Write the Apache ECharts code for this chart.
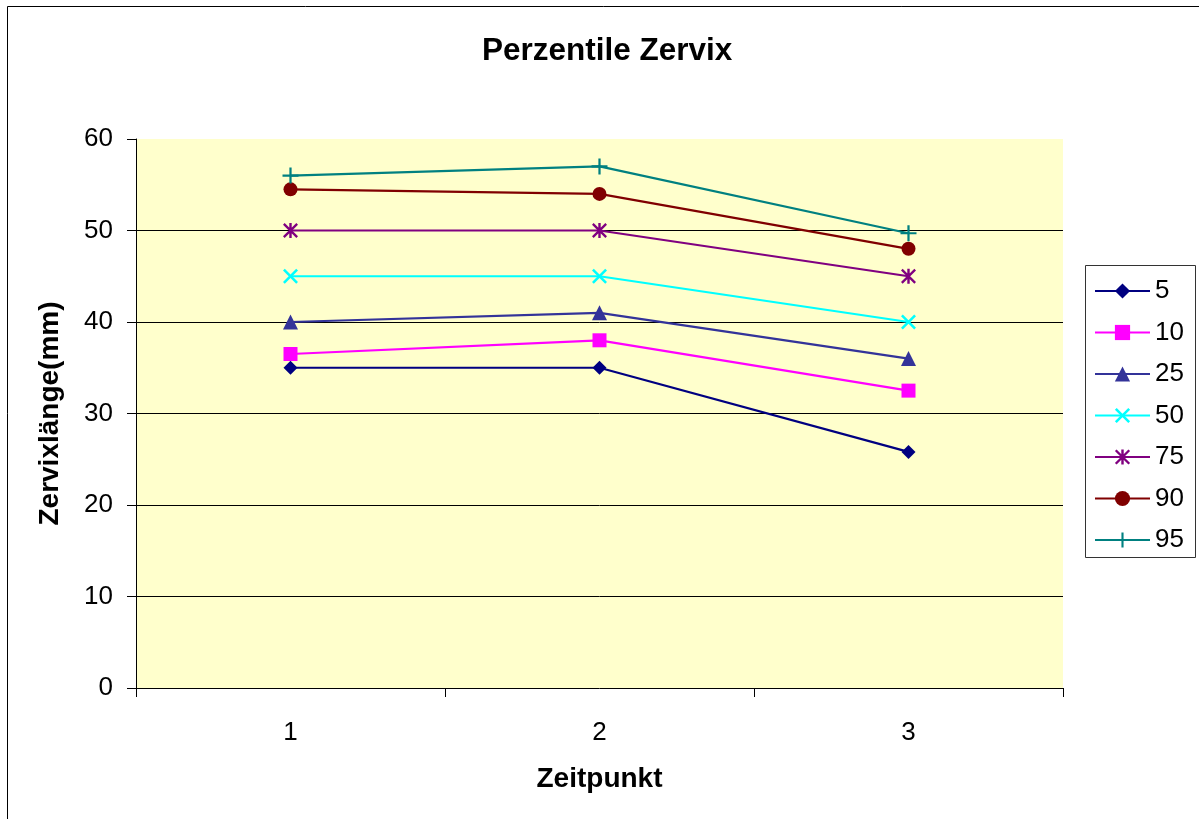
<!DOCTYPE html>
<html>
<head>
<meta charset="utf-8">
<script src="https://cdn.jsdelivr.net/npm/echarts@6/dist/echarts.min.js"></script>
<style>
html,body{margin:0;padding:0;background:#fff;}
#chart{width:1199px;height:819px;}
</style>
</head>
<body>
<div id="chart"></div>
<script>
const categories = ['1', '2', '3'];
const seriesNames = ['5', '10', '25', '50', '75', '90', '95'];
const p5  = [35, 35, 25.8];
const p10 = [36.5, 38, 32.5];
const p25 = [40, 41, 36];
const p50 = [45, 45, 40];
const p75 = [50, 50, 45];
const p90 = [54.5, 54, 48];
const p95 = [56, 57, 49.7];
const yTicks = [0, 10, 20, 30, 40, 50, 60];

const FONT = "'Liberation Sans', Arial, sans-serif";
const X_PATH = 'path://M0,1.2 L1.2,0 L5,3.8 L8.8,0 L10,1.2 L6.2,5 L10,8.8 L8.8,10 L5,6.2 L1.2,10 L0,8.8 L3.8,5 Z';
const STAR_PATH = 'path://M0,1.1 L1.1,0 L10,8.9 L8.9,10 Z M8.9,0 L10,1.1 L1.1,10 L0,8.9 Z M4.2,0 L5.8,0 L5.8,10 L4.2,10 Z';
const PLUS_PATH = 'path://M4.3,0 L5.7,0 L5.7,4.3 L10,4.3 L10,5.7 L5.7,5.7 L5.7,10 L4.3,10 L4.3,5.7 L0,5.7 L0,4.3 L4.3,4.3 Z';

const styles = [
  {data: p5,  color: '#000080', symbol: 'diamond',  size: 14},
  {data: p10, color: '#FF00FF', symbol: 'rect',     size: 14},
  {data: p25, color: '#333399', symbol: 'triangle', size: 15},
  {data: p50, color: '#00FFFF', symbol: X_PATH,     size: 15},
  {data: p75, color: '#800080', symbol: STAR_PATH,  size: 15},
  {data: p90, color: '#800000', symbol: 'circle',   size: 14},
  {data: p95, color: '#008080', symbol: PLUS_PATH,  size: 16}
];

const chart = echarts.init(document.getElementById('chart'), null, {renderer: 'canvas'});
const option = {
  backgroundColor: '#ffffff',
  animation: false,
  textStyle: {fontFamily: FONT},
  title: {
    text: 'Perzentile Zervix',
    left: 482, top: 35, padding: 0,
    textStyle: {fontFamily: FONT, fontSize: 31.5, fontWeight: 'bold', color: '#000'}
  },
  legend: {
    orient: 'vertical',
    left: 1094, top: 278, padding: 0,
    itemWidth: 55, itemHeight: 19, itemGap: 15.5,
    data: seriesNames,
    textStyle: {fontFamily: FONT, fontSize: 26, color: '#000', padding: [0, 0, 0, 0]}
  },
  grid: {
    left: 136, top: 139, width: 927, height: 549,
    show: true, backgroundColor: '#FFFFCC', borderWidth: 0,
    containLabel: false
  },
  xAxis: {
    type: 'category',
    data: categories,
    boundaryGap: true,
    name: 'Zeitpunkt',
    nameLocation: 'middle',
    nameGap: 77,
    nameTextStyle: {fontFamily: FONT, fontSize: 28, fontWeight: 'bold', color: '#000'},
    axisLine: {show: true, lineStyle: {color: '#000', width: 1}},
    axisTick: {show: true, alignWithLabel: false, length: 9, lineStyle: {color: '#000'}},
    axisLabel: {fontFamily: FONT, fontSize: 26, color: '#000', margin: 32},
    splitLine: {show: false}
  },
  yAxis: {
    type: 'value',
    min: yTicks[0], max: yTicks[yTicks.length - 1], interval: 10,
    name: 'Zervixlänge(mm)',
    nameLocation: 'middle',
    nameGap: 72,
    nameTextStyle: {fontFamily: FONT, fontSize: 28, fontWeight: 'bold', color: '#000'},
    axisLine: {show: true, lineStyle: {color: '#000', width: 1}},
    axisTick: {show: true, length: 9, lineStyle: {color: '#000'}},
    axisLabel: {fontFamily: FONT, fontSize: 26, color: '#000', margin: 23},
    splitLine: {show: true, showMinLine: false, showMaxLine: false, lineStyle: {color: '#000', width: 1}}
  },
  graphic: [
    {type: 'rect', silent: true, z: 100,
     shape: {x: 7.5, y: 6.5, width: 1230, height: 850},
     style: {fill: 'none', stroke: '#000', lineWidth: 1}},
    {type: 'rect', silent: true, z: 100,
     shape: {x: 1085.5, y: 265.5, width: 110, height: 292},
     style: {fill: 'none', stroke: '#333', lineWidth: 1}}
  ],
  series: styles.map((s, i) => ({
    name: seriesNames[i],
    type: 'line',
    data: s.data,
    symbol: s.symbol,
    symbolSize: s.size,
    showAllSymbol: true,
    lineStyle: {color: s.color, width: 2.2},
    itemStyle: {color: s.color, borderWidth: 0},
    emphasis: {disabled: true}
  }))
};
chart.setOption(option);
</script>
</body>
</html>
